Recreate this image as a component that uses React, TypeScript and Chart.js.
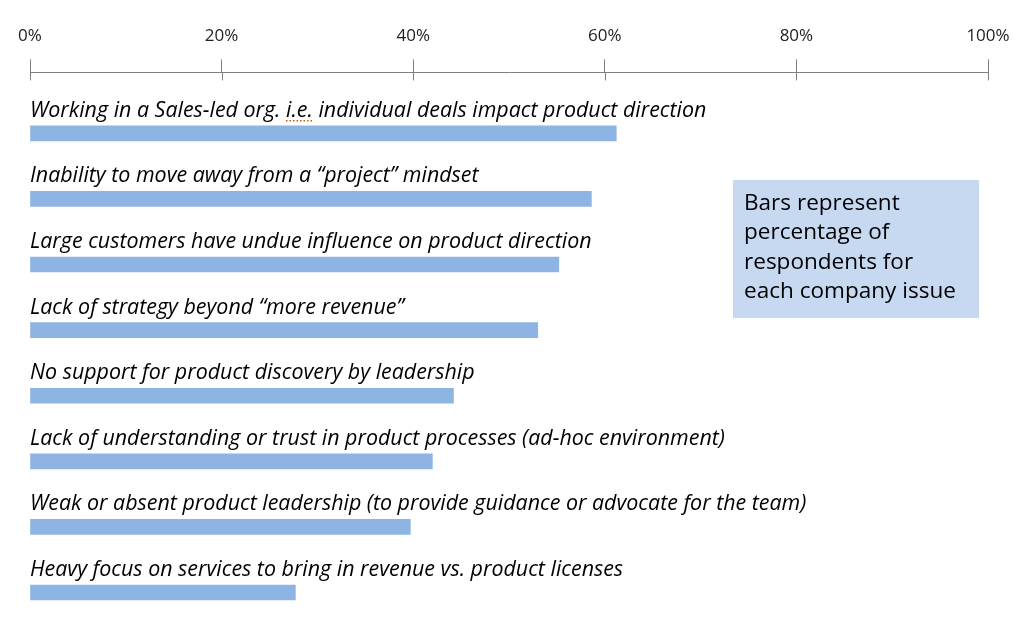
import React, { useEffect, useRef } from "react";
import { Chart, registerables } from "chart.js";

Chart.register(...registerables);

const categories: string[] = [
  "Working in a Sales-led org. i.e. individual deals impact product direction",
  "Inability to move away from a \u201cproject\u201d mindset",
  "Large customers have undue influence on product direction",
  "Lack of strategy beyond \u201cmore revenue\u201d",
  "No support for product discovery by leadership",
  "Lack of understanding or trust in product processes (ad-hoc environment)",
  "Weak or absent product leadership (to provide guidance or advocate for the team)",
  "Heavy focus on services to bring in revenue vs. product licenses",
];

const values: number[] = [61.2, 58.6, 55.2, 53.0, 44.2, 42.0, 39.7, 27.7];

const tickValues: number[] = [0, 20, 40, 60, 80, 100];

const noteLines: string[] = [
  "Bars represent",
  "percentage of",
  "respondents for",
  "each company issue",
];

const LABEL_FAMILY = "'Open Sans'";
const BAR_COLOR = "#8EB4E3";

function fitSize(ctx: CanvasRenderingContext2D, text: string, style: string, target: number, base: number) {
  ctx.font = `${style} ${base}px ${LABEL_FAMILY}`;
  const w = ctx.measureText(text).width;
  return (base * target) / w;
}

const tickExtendPlugin = {
  id: "tickExtend",
  afterDraw(chart: any) {
    const xs = chart.scales.x;
    const ctx = chart.ctx;
    ctx.save();
    ctx.strokeStyle = "#7f7f7f";
    ctx.lineWidth = 1;
    tickValues.forEach((v) => {
      const px = Math.round(xs.getPixelForValue(v)) + 0.5;
      ctx.beginPath();
      ctx.moveTo(px, xs.bottom);
      ctx.lineTo(px, xs.bottom + 8);
      ctx.stroke();
    });
    ctx.restore();
  },
};

const barLabelPlugin = {
  id: "barLabels",
  afterDatasetsDraw(chart: any) {
    const ctx = chart.ctx;
    const meta = chart.getDatasetMeta(0);
    const left = chart.chartArea.left;
    ctx.save();
    const size = fitSize(ctx, categories[0], "italic", 677, 20);
    ctx.font = `italic ${size}px ${LABEL_FAMILY}`;
    ctx.fillStyle = "#000000";
    ctx.textAlign = "left";
    ctx.textBaseline = "alphabetic";
    meta.data.forEach((el: any, i: number) => {
      const { y, height } = el.getProps(["y", "height"], true);
      const baseY = y - height / 2 - 9;
      const text = categories[i];
      ctx.fillText(text, left, baseY);
      const idx = text.indexOf("i.e.");
      if (idx >= 0) {
        const pre = ctx.measureText(text.slice(0, idx)).width;
        const w = ctx.measureText("i.e.").width;
        ctx.save();
        ctx.strokeStyle = "#C55A11";
        ctx.lineWidth = 1.5;
        ctx.setLineDash([1.5, 2]);
        ctx.beginPath();
        ctx.moveTo(left + pre, baseY + 4);
        ctx.lineTo(left + pre + w, baseY + 4);
        ctx.stroke();
        ctx.restore();
      }
    });
    ctx.restore();
  },
};

const notePlugin = {
  id: "noteBox",
  afterDraw(chart: any) {
    const ctx = chart.ctx;
    ctx.save();
    ctx.fillStyle = "#C6D9F1";
    ctx.fillRect(733, 180, 246, 138);
    const size = fitSize(ctx, noteLines[3], "normal", 212, 22);
    ctx.font = `normal ${size}px ${LABEL_FAMILY}`;
    ctx.fillStyle = "#000000";
    ctx.textAlign = "left";
    ctx.textBaseline = "alphabetic";
    noteLines.forEach((line, i) => {
      ctx.fillText(line, 744, 210 + i * 29.3);
    });
    ctx.restore();
  },
};

export default function App() {
  const canvasRef = useRef<HTMLCanvasElement | null>(null);

  useEffect(() => {
    document.body.style.margin = "0";
    const canvas = canvasRef.current;
    if (!canvas) return;
    const chart = new Chart(canvas, {
      type: "bar",
      data: {
        datasets: [
          {
            data: values.map((v, i) => ({ x: v, y: i })),
            backgroundColor: BAR_COLOR,
            borderWidth: 0,
            barThickness: 15,
          },
        ],
      },
      options: {
        indexAxis: "y",
        animation: false,
        responsive: true,
        maintainAspectRatio: false,
        layout: { padding: { left: 30, right: 36, top: 13, bottom: 5 } },
        plugins: {
          legend: { display: false },
          tooltip: { enabled: false },
        },
        scales: {
          x: {
            type: "linear",
            position: "top",
            min: 0,
            max: 100,
            afterBuildTicks: (scale: any) => {
              scale.ticks = tickValues.map((v) => ({ value: v }));
            },
            ticks: {
              callback: (v: any) => `${v}%`,
              font: { family: "'Open Sans'", size: 17 },
              color: "#222222",
              padding: 13,
              maxRotation: 0,
            },
            grid: {
              drawOnChartArea: false,
              drawTicks: true,
              tickLength: 13,
              color: "#7f7f7f",
            },
            border: { display: true, color: "#7f7f7f", width: 1 },
          },
          y: {
            type: "linear",
            reverse: true,
            offset: false,
            min: -0.929,
            max: 7.343,
            display: false,
            grid: { offset: false },
          },
        },
      },
      plugins: [tickExtendPlugin, barLabelPlugin, notePlugin],
    });
    return () => chart.destroy();
  }, []);

  return (
    <div style={{ position: "fixed", left: 0, top: 0, width: 1024, height: 620, background: "#ffffff" }}>
      <canvas ref={canvasRef} />
    </div>
  );
}
